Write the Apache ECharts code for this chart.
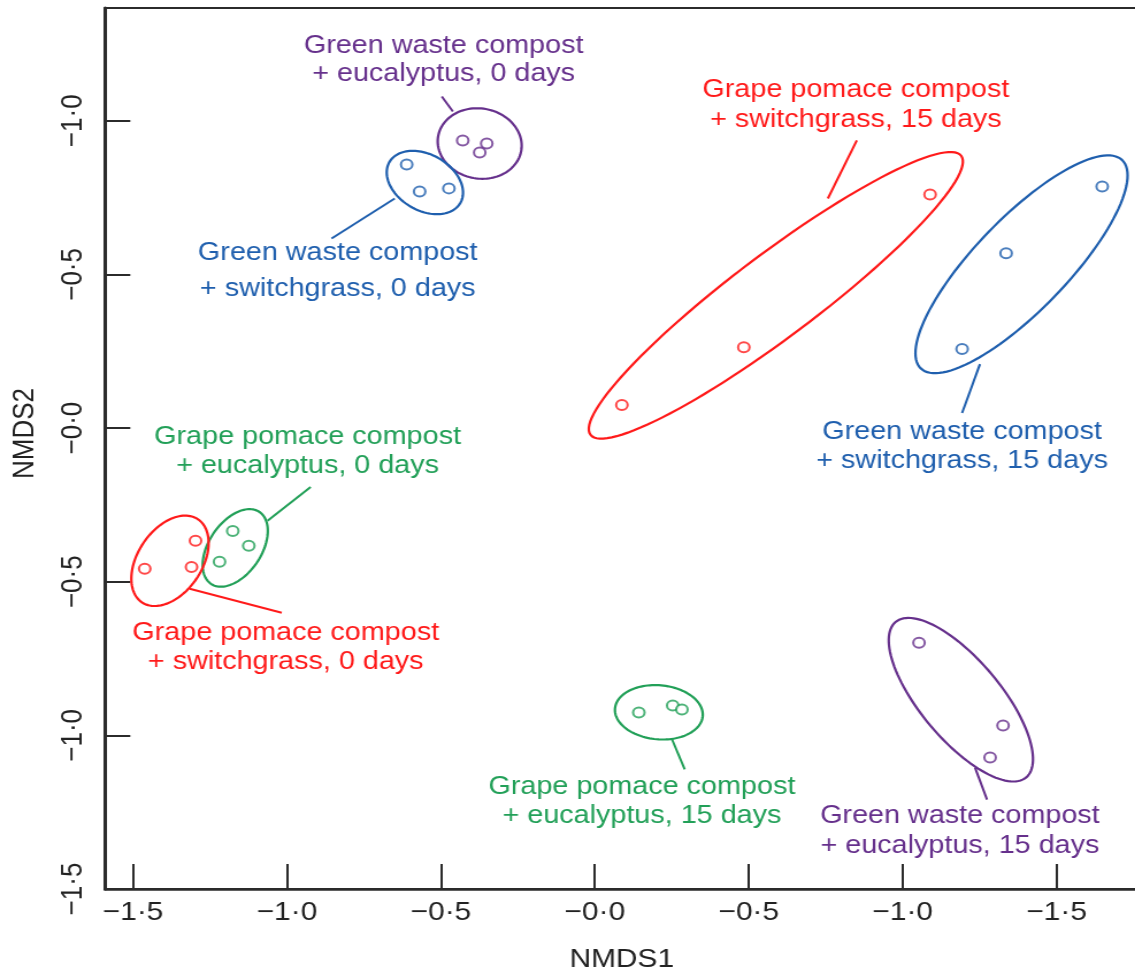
<!DOCTYPE html>
<html>
<head>
<meta charset="utf-8">
<title>NMDS ordination of compost treatments</title>
<script src="https://cdn.jsdelivr.net/npm/echarts@6/dist/echarts.min.js"></script>
<style>
  html, body { margin: 0; padding: 0; background: #fff; overflow: hidden; }
  /* the figure is drawn on a narrower canvas and widened to the page width */
  #chart { width: 990px; height: 978px; transform: scaleX(1.15); transform-origin: 0 0; }
</style>
</head>
<body>
<div id="chart"></div>
<script>
// ---- treatment groups ----
const groupNames = [
  'Green waste compost\n+ eucalyptus, 0 days',
  'Green waste compost\n+ switchgrass, 0 days',
  'Grape pomace compost\n+ switchgrass, 15 days',
  'Green waste compost\n+ switchgrass, 15 days',
  'Grape pomace compost\n+ eucalyptus, 0 days',
  'Grape pomace compost\n+ switchgrass, 0 days',
  'Grape pomace compost\n+ eucalyptus, 15 days',
  'Green waste compost\n+ eucalyptus, 15 days'
];

// ---- NMDS scores [NMDS1, NMDS2] per replicate ----
const gwEucalyptus0 = [[-0.429, 0.936], [-0.351, 0.926], [-0.374, 0.897]];
const gwSwitchgrass0 = [[-0.611, 0.858], [-0.569, 0.770], [-0.474, 0.780]];
const gpSwitchgrass15 = [[1.089, 0.760], [0.484, 0.263], [0.088, 0.075]];
const gwSwitchgrass15 = [[1.648, 0.786], [1.336, 0.569], [1.193, 0.257]];
const gpEucalyptus0 = [[-1.176, -0.335], [-1.124, -0.383], [-1.219, -0.435]];
const gpSwitchgrass0 = [[-1.462, -0.458], [-1.297, -0.367], [-1.310, -0.452]];
const gpEucalyptus15 = [[0.143, -0.926], [0.253, -0.903], [0.283, -0.916]];
const gwEucalyptus15 = [[1.053, -0.699], [1.326, -0.968], [1.284, -1.072]];

const groupPoints = [gwEucalyptus0, gwSwitchgrass0, gpSwitchgrass15, gwSwitchgrass15,
                     gpEucalyptus0, gpSwitchgrass0, gpEucalyptus15, gwEucalyptus15];

// ---- group ellipses: [centre NMDS1, centre NMDS2, semi-major, semi-minor, tilt in degrees] ----
const groupEllipses = [
  [-0.374, 0.926, 0.137, 0.114, -10],
  [-0.552, 0.799, 0.133, 0.091, -30],
  [0.588, 0.432, 0.754, 0.135, 37],
  [1.386, 0.533, 0.471, 0.150, 46],
  [-1.168, -0.390, 0.141, 0.085, 56],
  [-1.380, -0.432, 0.163, 0.104, 56],
  [0.208, -0.925, 0.143, 0.088, -5],
  [1.189, -0.884, 0.330, 0.130, -50]
];

// ---- axis ticks ----
const xTickValues = [-1.5, -1.0, -0.5, 0.0, 0.5, 1.0, 1.5];
const xTickText = ['\u22121\u00b75', '\u22121\u00b70', '\u22120\u00b75', '\u22120\u00b70', '\u22120\u00b75', '\u22121\u00b70', '\u22121\u00b75'];
const yTickValues = [-1.5, -1.0, -0.5, 0.0, 0.5, 1.0];
const yTickText = ['\u22121\u00b75', '\u22121\u00b70', '\u22120\u00b75', '\u22120\u00b70', '\u22120\u00b75', '\u22121\u00b70'];

// ---- presentation ----
const RED = '#ff1a1a', BLUE = '#1f5fae', GREEN = '#22a058', PURPLE = '#66308c';
const groupColors = [PURPLE, BLUE, RED, BLUE, GREEN, RED, GREEN, PURPLE];

// label block centres (axis units) and line spacing
const labelLayout = [
  { at: [-0.491, 1.196], lh: 28 },
  { at: [-0.835, 0.512], lh: 36 },
  { at: [0.848, 1.050], lh: 30 },
  { at: [1.193, -0.060], lh: 29 },
  { at: [-0.933, -0.076], lh: 29 },
  { at: [-1.004, -0.713], lh: 29 },
  { at: [0.153, -1.214], lh: 29 },
  { at: [1.186, -1.313], lh: 30 }
];
// leader lines from each label to its ellipse (axis units)
const leaderLayout = [
  [-0.497, 1.079, -0.461, 1.030],
  [-0.855, 0.617, -0.650, 0.747],
  [0.851, 0.936, 0.757, 0.747],
  [1.193, 0.049, 1.251, 0.208],
  [-0.923, -0.192, -1.063, -0.302],
  [-1.017, -0.601, -1.316, -0.523],
  [0.250, -1.011, 0.292, -1.111],
  [1.235, -1.105, 1.274, -1.209]
];

const FONT = "'Liberation Sans', Arial, Helvetica, sans-serif";
const AXIS_COLOR = '#2b2b2b';

function tickText(values, texts) {
  return function (v) {
    const i = values.findIndex(t => Math.abs(t - v) < 1e-6);
    return i >= 0 ? texts[i] : '';
  };
}

const series = [];

// ellipses
series.push({
  type: 'custom',
  name: 'ellipses',
  silent: true,
  data: groupEllipses,
  renderItem: function (params, api) {
    const e = groupEllipses[params.dataIndex];
    const th = e[4] * Math.PI / 180;
    const pts = [];
    for (let k = 0; k < 120; k++) {
      const t = 2 * Math.PI * k / 120;
      const u = e[2] * Math.cos(t), w = e[3] * Math.sin(t);
      pts.push(api.coord([e[0] + u * Math.cos(th) - w * Math.sin(th),
                          e[1] + u * Math.sin(th) + w * Math.cos(th)]));
    }
    return {
      type: 'polygon',
      shape: { points: pts },
      style: { fill: 'none', stroke: groupColors[params.dataIndex], lineWidth: 2.2 }
    };
  },
  z: 2
});

// leader lines
series.push({
  type: 'custom',
  name: 'leaders',
  silent: true,
  data: leaderLayout,
  renderItem: function (params, api) {
    const l = leaderLayout[params.dataIndex];
    const p1 = api.coord([l[0], l[1]]), p2 = api.coord([l[2], l[3]]);
    return {
      type: 'line',
      shape: { x1: p1[0], y1: p1[1], x2: p2[0], y2: p2[1] },
      style: { stroke: groupColors[params.dataIndex], lineWidth: 2 }
    };
  },
  z: 2
});

// replicate points
groupPoints.forEach(function (pts, g) {
  series.push({
    type: 'scatter',
    name: groupNames[g],
    data: pts,
    symbol: 'emptyCircle',
    symbolSize: 10,
    itemStyle: { color: groupColors[g], borderColor: groupColors[g], borderWidth: 2 },
    z: 3
  });
});

// group labels
series.push({
  type: 'custom',
  name: 'labels',
  silent: true,
  data: labelLayout.map(l => l.at),
  renderItem: function (params, api) {
    const l = labelLayout[params.dataIndex];
    const p = api.coord(l.at);
    return {
      type: 'text',
      x: p[0],
      y: p[1],
      style: {
        text: groupNames[params.dataIndex],
        fill: groupColors[params.dataIndex],
        fontSize: 25,
        fontFamily: FONT,
        align: 'center',
        verticalAlign: 'middle',
        lineHeight: l.lh
      }
    };
  },
  z: 4
});

const chart = echarts.init(document.getElementById('chart'), null, { renderer: 'canvas' });
chart.setOption({
  animation: false,
  backgroundColor: '#ffffff',
  grid: {
    left: 91.3, right: 0, top: 8, bottom: 88,
    show: true, borderColor: AXIS_COLOR, borderWidth: 2
  },
  xAxis: {
    type: 'value',
    min: -1.591, max: 1.766,
    name: 'NMDS1',
    nameLocation: 'middle',
    nameGap: 58,
    nameTextStyle: { fontSize: 26, fontFamily: FONT, color: '#222' },
    axisLine: { show: true, onZero: false, lineStyle: { color: AXIS_COLOR, width: 2.5 } },
    axisTick: { show: true, inside: true, length: 25, customValues: xTickValues,
                lineStyle: { color: AXIS_COLOR, width: 2 } },
    axisLabel: { customValues: xTickValues, formatter: tickText(xTickValues, xTickText),
                 fontSize: 26, fontFamily: FONT, color: '#222', margin: 11 },
    splitLine: { show: false }
  },
  yAxis: {
    type: 'value',
    min: -1.5, max: 1.367,
    name: 'NMDS2',
    nameLocation: 'middle',
    nameGap: 56,
    nameTextStyle: { fontSize: 26, fontFamily: FONT, color: '#222', padding: [0, 0, 0, 30] },
    axisLine: { show: true, onZero: false, lineStyle: { color: AXIS_COLOR, width: 3 } },
    axisTick: { show: true, inside: true, length: 22, customValues: yTickValues,
                lineStyle: { color: AXIS_COLOR, width: 2 } },
    axisLabel: { customValues: yTickValues, formatter: tickText(yTickValues, yTickText),
                 rotate: 90, fontSize: 26, fontFamily: FONT, color: '#222', margin: 14 },
    splitLine: { show: false }
  },
  series: series
});
</script>
</body>
</html>
